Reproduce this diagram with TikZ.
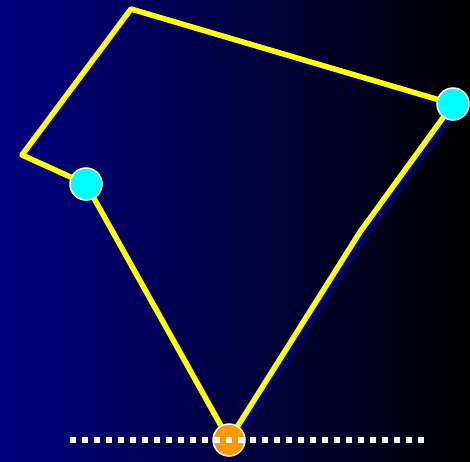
\documentclass[tikz,border=0pt]{standalone}
\begin{document}
\begin{tikzpicture}[x=1pt,y=-1pt,
  edge/.style={line width=5.5pt,line join=round,line cap=round},
  cyanpt/.style={circle,fill={rgb,255:red,0;green,255;blue,255},draw=white,line width=1.5pt,minimum size=32pt,inner sep=0pt},
  orangept/.style={circle,fill={rgb,255:red,255;green,153;blue,0},draw=white,line width=1.5pt,minimum size=32pt,inner sep=0pt}]
\shade[left color={rgb,255:red,0;green,0;blue,128},right color=black] (0,0) rectangle (470,461);
\useasboundingbox (0,0) rectangle (470,461);
\coordinate (p1) at (131,9);
\coordinate (p3) at (360,232);
\coordinate (p5) at (22,155);
\coordinate (s1) at (135,13);
\coordinate (s2) at (457,108);
\coordinate (s3) at (364,236);
\coordinate (s4) at (233,444);
\coordinate (s5) at (90,188);
\coordinate (s6) at (26,159);
\draw[edge,draw={rgb,255:red,0;green,0;blue,110}] (s1) -- (s2) -- (s3) -- (s4) -- (s5) -- (s6) -- cycle;
\coordinate (c2) at (453,104);
\coordinate (c4) at (229,440);
\coordinate (c5) at (86,184);
\draw[edge,draw={rgb,255:red,255;green,255;blue,0}] (p1) -- (c2) -- (p3) -- (c4) -- (c5) -- (p5) -- cycle;
\node[cyanpt] (n2) at (c2) {};
\node[cyanpt] (n5) at (c5) {};
\node[orangept] (n4) at (c4) {};
\coordinate (d1) at (70,440);
\coordinate (d2) at (424,440);
\draw[white,line width=6pt,dash pattern=on 6pt off 6pt] (d1) -- (d2);
\end{tikzpicture}
\end{document}
